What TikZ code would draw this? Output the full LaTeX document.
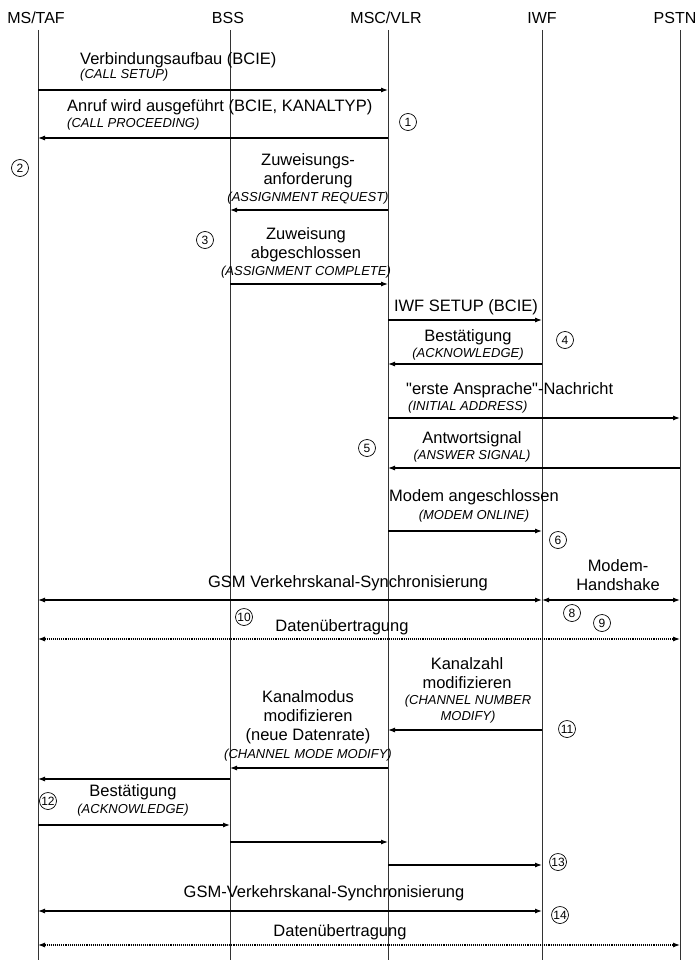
\documentclass[tikz,border=0pt]{standalone}
\usepackage{fontspec}
\setmainfont{Liberation Sans}
\usetikzlibrary{arrows.meta}

\newcommand\gq{{\addfontfeatures{Ligatures=TeXOff}"}}

\begin{document}
\begin{tikzpicture}[x=1pt, y=-1pt, >={Latex[length=7pt,width=5pt]},
  head/.style={font=\fontsize{16}{18}\selectfont, inner sep=0pt},
  life/.style={line width=0.9pt, black!80},
  msg/.style={->, line width=1.1pt},
  sync/.style={<->, line width=1.1pt},
  data/.style={<->, line width=1.1pt, densely dotted},
  de/.style={font=\fontsize{16.5}{19}\selectfont, inner sep=0pt, align=center},
  en/.style={font=\fontsize{13}{16}\selectfont\itshape, inner sep=0pt, align=center},
  num/.style={circle, draw, line width=0.7pt, inner sep=0pt, minimum size=17pt, font=\fontsize{12}{12}\selectfont}]

\useasboundingbox (0,0) rectangle (698,960);

% Instanzen und Lebenslinien
\foreach \n/\x/\tx/\t in {ms/38/36/{MS/TAF}, bss/230/228/BSS, msc/388/386/{MSC/VLR}, iwf/542/542/IWF, pstn/680/675/PSTN}
{
	\node (\n) at (\tx,18) [head] {\t};
	\coordinate (\n-top) at (\x,30);
	\coordinate (\n-end) at (\x,960);
	\draw[life] (\n-top) -- (\n-end);
}

% Verbindungsaufbau
\node (setup) at (80,60) [de, anchor=west] {Verbindungsaufbau (BCIE)};
\node (setup-en) at (80,75) [en, anchor=west] {(CALL SETUP)};
\draw[msg] (ms-top |- 0,90) -- (msc-top |- 0,90);

\node (proc) at (67,107) [de, anchor=west] {Anruf wird ausgeführt (BCIE, KANALTYP)};
\node (proc-en) at (67,124) [en, anchor=west] {(CALL PROCEEDING)};
\draw[msg] (msc-top |- 0,138) -- (ms-top |- 0,138);

\node (n1) at (408,122) [num] {1};
\node (n2) at (20,168) [num] {2};

% Zuweisung
\node (asreq) at (308,171) [de] {Zuweisungs-\\anforderung};
\node (asreq-en) at (308,198) [en] {(ASSIGNMENT REQUEST)};
\draw[msg] (msc-top |- 0,210) -- (bss-top |- 0,210);

\node (n3) at (205,240) [num] {3};

\node (ascomp) at (306,245) [de] {Zuweisung\\abgeschlossen};
\node (ascomp-en) at (306,272) [en] {(ASSIGNMENT COMPLETE)};
\draw[msg] (bss-top |- 0,284) -- (msc-top |- 0,284);

% IWF
\node (iwfsetup) at (466,307) [de] {IWF SETUP (BCIE)};
\draw[msg] (msc-top |- 0,320) -- (iwf-top |- 0,320);

\node (ack1) at (468,337) [de] {Bestätigung};
\node (ack1-en) at (468,354) [en] {(ACKNOWLEDGE)};
\draw[msg] (iwf-top |- 0,364) -- (msc-top |- 0,364);

\node (n4) at (565,340) [num] {4};

\node (iam) at (406,390) [de, anchor=west] {\gq erste Ansprache\gq-Nachricht};
\node (iam-en) at (408,407) [en, anchor=west] {(INITIAL ADDRESS)};
\draw[msg] (msc-top |- 0,418) -- (pstn-top |- 0,418);

\node (n5) at (367,448) [num] {5};

\node (answer) at (472,439) [de] {Antwortsignal};
\node (answer-en) at (472,456) [en] {(ANSWER SIGNAL)};
\draw[msg] (pstn-top |- 0,468) -- (msc-top |- 0,468);

\node (online) at (474,497) [de] {Modem angeschlossen};
\node (online-en) at (474,516) [en] {(MODEM ONLINE)};
\draw[msg] (msc-top |- 0,531) -- (iwf-top |- 0,531);

\node (n6) at (558,540) [num] {6};

% Synchronisierung
\node (hs) at (618,575) [de] {Modem-\\Handshake};
\draw[sync] (iwf-top |- 0,600) -- (pstn-top |- 0,600);

\node (sync1) at (348,583) [de] {GSM Verkehrskanal-Synchronisierung};
\draw[sync] (ms-top |- 0,600) -- (iwf-top |- 0,600);

\node (n10) at (244,617) [num] {10};
\node (n8) at (572,613) [num] {8};
\node (n9) at (602,623) [num] {9};

\node (data1) at (342,627) [de] {Datenübertragung};
\draw[data] (ms-top |- 0,639) -- (pstn-top |- 0,639);

% Kanalaenderung
\node (chnum) at (467,673) [de] {Kanalzahl\\modifizieren};
\node (chnum-en) at (468,709) [en] {(CHANNEL NUMBER\\MODIFY)};
\draw[msg] (iwf-top |- 0,730) -- (msc-top |- 0,730);

\node (n11) at (567,729) [num] {11};

\node (chmode) at (308,717) [de] {Kanalmodus\\modifizieren\\(neue Datenrate)};
\node (chmode-en) at (308,755) [en] {(CHANNEL MODE MODIFY)};
\draw[msg] (msc-top |- 0,768) -- (bss-top |- 0,768);
\draw[msg] (bss-top |- 0,779) -- (ms-top |- 0,779);

\node (n12) at (48,801) [num] {12};

\node (ack2) at (133,792) [de] {Bestätigung};
\node (ack2-en) at (133,810) [en] {(ACKNOWLEDGE)};
\draw[msg] (ms-top |- 0,825) -- (bss-top |- 0,825);
\draw[msg] (bss-top |- 0,842) -- (msc-top |- 0,842);
\draw[msg] (msc-top |- 0,865) -- (iwf-top |- 0,865);

\node (n13) at (558,862) [num] {13};

\node (sync2) at (324,893) [de] {GSM-Verkehrskanal-Synchronisierung};
\draw[sync] (ms-top |- 0,911) -- (iwf-top |- 0,911);

\node (n14) at (560,915) [num] {14};

\node (data2) at (340,932) [de] {Datenübertragung};
\draw[data] (ms-top |- 0,945) -- (pstn-top |- 0,945);

\end{tikzpicture}
\end{document}
